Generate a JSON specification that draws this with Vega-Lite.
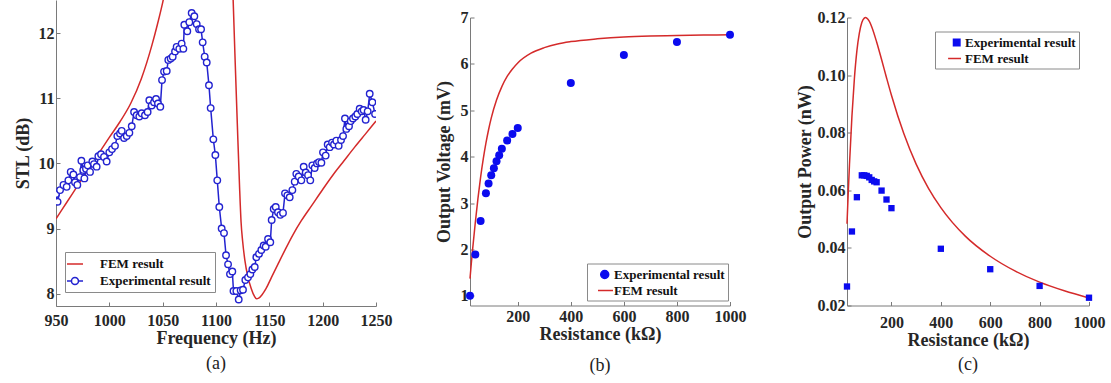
{
  "$schema": "https://vega.github.io/schema/vega-lite/v6.json",
  "padding": {"left": 14, "top": 0, "right": 5, "bottom": 5},
  "background": "white",
  "spacing": 43,
  "center": true,
  "resolve": {"scale": {"color": "independent", "x": "independent", "y": "independent"}, "legend": {"color": "independent"}},
  "config": {
    "view": {"stroke": null},
    "axis": {
      "labelFont": "Liberation Serif", "labelFontSize": 16, "labelFontWeight": "bold", "labelColor": "#262626",
      "titleFont": "Liberation Serif", "titleFontSize": 18, "titleFontWeight": "bold", "titleColor": "#262626",
      "domainColor": "#7a7a7a", "tickColor": "#7a7a7a", "tickSize": -4, "grid": false, "labelPadding": 6,
      "labelFlush": false, "labelOverlap": false
    },
    "legend": {
      "labelFont": "Liberation Serif", "labelFontSize": 13, "labelFontWeight": "bold", "labelColor": "#111111",
      "strokeColor": "#8a8a8a", "fillColor": "white", "padding": 3, "rowPadding": 1, "symbolSize": 196
    },
    "title": {"font": "Liberation Serif", "fontSize": 18, "fontWeight": "normal", "color": "#222222"}
  },
  "datasets": {
    "femA": [
      {"f": 950, "v": 9.15, "seg": 1, "series": "FEM result"},
      {"f": 960, "v": 9.4, "seg": 1, "series": "FEM result"},
      {"f": 970, "v": 9.65, "seg": 1, "series": "FEM result"},
      {"f": 980, "v": 9.9, "seg": 1, "series": "FEM result"},
      {"f": 990, "v": 10.15, "seg": 1, "series": "FEM result"},
      {"f": 1000, "v": 10.4, "seg": 1, "series": "FEM result"},
      {"f": 1010, "v": 10.64, "seg": 1, "series": "FEM result"},
      {"f": 1020, "v": 10.92, "seg": 1, "series": "FEM result"},
      {"f": 1030, "v": 11.3, "seg": 1, "series": "FEM result"},
      {"f": 1040, "v": 11.82, "seg": 1, "series": "FEM result"},
      {"f": 1045, "v": 12.13, "seg": 1, "series": "FEM result"},
      {"f": 1050, "v": 12.47, "seg": 1, "series": "FEM result"},
      {"f": 1053, "v": 12.7, "seg": 1, "series": "FEM result"},
      {"f": 1115, "v": 13.1, "seg": 2, "series": "FEM result"},
      {"f": 1116, "v": 12.55, "seg": 2, "series": "FEM result"},
      {"f": 1118, "v": 11.55, "seg": 2, "series": "FEM result"},
      {"f": 1120, "v": 10.6, "seg": 2, "series": "FEM result"},
      {"f": 1122, "v": 9.68, "seg": 2, "series": "FEM result"},
      {"f": 1123.5, "v": 9.1, "seg": 2, "series": "FEM result"},
      {"f": 1125, "v": 8.8, "seg": 2, "series": "FEM result"},
      {"f": 1127, "v": 8.52, "seg": 2, "series": "FEM result"},
      {"f": 1130, "v": 8.25, "seg": 2, "series": "FEM result"},
      {"f": 1133, "v": 8.08, "seg": 2, "series": "FEM result"},
      {"f": 1136, "v": 7.96, "seg": 2, "series": "FEM result"},
      {"f": 1138, "v": 7.92, "seg": 2, "series": "FEM result"},
      {"f": 1140, "v": 7.93, "seg": 2, "series": "FEM result"},
      {"f": 1143, "v": 7.98, "seg": 2, "series": "FEM result"},
      {"f": 1147, "v": 8.08, "seg": 2, "series": "FEM result"},
      {"f": 1152, "v": 8.25, "seg": 2, "series": "FEM result"},
      {"f": 1158, "v": 8.45, "seg": 2, "series": "FEM result"},
      {"f": 1165, "v": 8.68, "seg": 2, "series": "FEM result"},
      {"f": 1172, "v": 8.9, "seg": 2, "series": "FEM result"},
      {"f": 1180, "v": 9.12, "seg": 2, "series": "FEM result"},
      {"f": 1190, "v": 9.36, "seg": 2, "series": "FEM result"},
      {"f": 1200, "v": 9.6, "seg": 2, "series": "FEM result"},
      {"f": 1210, "v": 9.83, "seg": 2, "series": "FEM result"},
      {"f": 1220, "v": 10.04, "seg": 2, "series": "FEM result"},
      {"f": 1230, "v": 10.25, "seg": 2, "series": "FEM result"},
      {"f": 1240, "v": 10.45, "seg": 2, "series": "FEM result"},
      {"f": 1250, "v": 10.65, "seg": 2, "series": "FEM result"}
    ],
    "expA": [
      {"f": 950, "v": 9.53}, {"f": 951.5, "v": 9.41}, {"f": 953.8, "v": 9.59}, {"f": 957, "v": 9.67},
      {"f": 960, "v": 9.64}, {"f": 961.6, "v": 9.74}, {"f": 963.8, "v": 9.87}, {"f": 966.3, "v": 9.83},
      {"f": 967.8, "v": 9.71}, {"f": 970, "v": 9.67}, {"f": 972.5, "v": 9.79}, {"f": 973.8, "v": 10.04},
      {"f": 975.6, "v": 9.9}, {"f": 976.6, "v": 9.77}, {"f": 978.1, "v": 9.92}, {"f": 979.7, "v": 9.97},
      {"f": 981.9, "v": 9.87}, {"f": 984.1, "v": 10.03}, {"f": 985.6, "v": 9.99}, {"f": 988.1, "v": 9.95},
      {"f": 989.7, "v": 10.11}, {"f": 992.2, "v": 10.14}, {"f": 995, "v": 10.1}, {"f": 997.5, "v": 10.03},
      {"f": 1000, "v": 10.17}, {"f": 1002.5, "v": 10.22}, {"f": 1005.3, "v": 10.27}, {"f": 1007.5, "v": 10.42},
      {"f": 1010, "v": 10.46}, {"f": 1011.6, "v": 10.5}, {"f": 1013.8, "v": 10.39}, {"f": 1016.3, "v": 10.42},
      {"f": 1018.8, "v": 10.47}, {"f": 1021, "v": 10.57}, {"f": 1023.2, "v": 10.79}, {"f": 1025.6, "v": 10.74},
      {"f": 1028.1, "v": 10.72}, {"f": 1030.3, "v": 10.77}, {"f": 1033.4, "v": 10.74}, {"f": 1035.9, "v": 10.79},
      {"f": 1037.5, "v": 10.97}, {"f": 1039.7, "v": 10.89}, {"f": 1041.9, "v": 10.94}, {"f": 1043.8, "v": 10.99},
      {"f": 1045.6, "v": 10.92}, {"f": 1047.8, "v": 10.87}, {"f": 1049.4, "v": 11.28}, {"f": 1051.3, "v": 11.41},
      {"f": 1053.8, "v": 11.42}, {"f": 1055.3, "v": 11.59}, {"f": 1057.5, "v": 11.61}, {"f": 1059.4, "v": 11.64},
      {"f": 1061.6, "v": 11.72}, {"f": 1063.1, "v": 11.79}, {"f": 1065.6, "v": 11.76}, {"f": 1067.8, "v": 11.84},
      {"f": 1069.4, "v": 11.76}, {"f": 1070.3, "v": 12.13}, {"f": 1073.1, "v": 12.03}, {"f": 1075, "v": 12.17},
      {"f": 1077.2, "v": 12.31}, {"f": 1079.7, "v": 12.26}, {"f": 1081.9, "v": 12.14}, {"f": 1084.1, "v": 12.06},
      {"f": 1086, "v": 12.06}, {"f": 1087.5, "v": 11.86}, {"f": 1089.4, "v": 11.64}, {"f": 1091.3, "v": 11.55},
      {"f": 1093.4, "v": 11.2}, {"f": 1095, "v": 10.85}, {"f": 1097.5, "v": 10.37}, {"f": 1099.4, "v": 10.13},
      {"f": 1101.2, "v": 9.74}, {"f": 1103.1, "v": 9.33}, {"f": 1105.3, "v": 9.0}, {"f": 1107.5, "v": 8.93},
      {"f": 1109.4, "v": 8.59}, {"f": 1111.3, "v": 8.45}, {"f": 1113.1, "v": 8.3}, {"f": 1115.3, "v": 8.34},
      {"f": 1116.4, "v": 8.04}, {"f": 1119.1, "v": 8.04}, {"f": 1121.3, "v": 7.91}, {"f": 1123.1, "v": 8.05},
      {"f": 1125.3, "v": 8.06}, {"f": 1127.5, "v": 8.21}, {"f": 1130, "v": 8.25}, {"f": 1132.2, "v": 8.3},
      {"f": 1134.1, "v": 8.37}, {"f": 1136.3, "v": 8.41}, {"f": 1137.8, "v": 8.56}, {"f": 1140.3, "v": 8.61},
      {"f": 1142.5, "v": 8.67}, {"f": 1144.7, "v": 8.74}, {"f": 1146.6, "v": 8.72}, {"f": 1148.8, "v": 8.84},
      {"f": 1150.9, "v": 8.79}, {"f": 1152.2, "v": 9.13}, {"f": 1154.1, "v": 9.3}, {"f": 1156, "v": 9.33},
      {"f": 1158.1, "v": 9.25}, {"f": 1160.3, "v": 9.21}, {"f": 1162.8, "v": 9.24}, {"f": 1164.7, "v": 9.54},
      {"f": 1166.9, "v": 9.51}, {"f": 1169.1, "v": 9.48}, {"f": 1171.6, "v": 9.59}, {"f": 1173.8, "v": 9.72},
      {"f": 1175.3, "v": 9.84}, {"f": 1177.5, "v": 9.8}, {"f": 1180, "v": 9.74}, {"f": 1182.2, "v": 9.95},
      {"f": 1184.1, "v": 9.86}, {"f": 1186.3, "v": 9.82}, {"f": 1188.4, "v": 9.74}, {"f": 1190.3, "v": 9.97},
      {"f": 1192.5, "v": 9.93}, {"f": 1194.7, "v": 10.0}, {"f": 1196.6, "v": 10.02}, {"f": 1198.8, "v": 10.01},
      {"f": 1200.3, "v": 10.17}, {"f": 1202.8, "v": 10.12}, {"f": 1204.7, "v": 10.29}, {"f": 1206.6, "v": 10.25},
      {"f": 1208.8, "v": 10.32}, {"f": 1210.6, "v": 10.29}, {"f": 1212.8, "v": 10.35}, {"f": 1215, "v": 10.27},
      {"f": 1217.2, "v": 10.36}, {"f": 1219.1, "v": 10.42}, {"f": 1220.9, "v": 10.69}, {"f": 1222.2, "v": 10.53},
      {"f": 1224.7, "v": 10.57}, {"f": 1226.3, "v": 10.65}, {"f": 1228.4, "v": 10.69}, {"f": 1230.6, "v": 10.72},
      {"f": 1232.5, "v": 10.76}, {"f": 1234.7, "v": 10.84}, {"f": 1236.6, "v": 10.8}, {"f": 1238.4, "v": 10.82},
      {"f": 1240.3, "v": 10.67}, {"f": 1242.2, "v": 10.8}, {"f": 1244.1, "v": 11.07}, {"f": 1246.6, "v": 10.94},
      {"f": 1249.1, "v": 10.76}
    ],
    "femB": [
      {"R": 20, "V": 1.37}, {"R": 25, "V": 1.7}, {"R": 30, "V": 2.01}, {"R": 40, "V": 2.58},
      {"R": 50, "V": 3.1}, {"R": 60, "V": 3.56}, {"R": 70, "V": 3.95}, {"R": 80, "V": 4.29},
      {"R": 90, "V": 4.58}, {"R": 100, "V": 4.83}, {"R": 120, "V": 5.22}, {"R": 140, "V": 5.51},
      {"R": 160, "V": 5.73}, {"R": 180, "V": 5.89}, {"R": 200, "V": 6.02}, {"R": 250, "V": 6.23},
      {"R": 300, "V": 6.35}, {"R": 350, "V": 6.43}, {"R": 400, "V": 6.48}, {"R": 500, "V": 6.54},
      {"R": 600, "V": 6.58}, {"R": 700, "V": 6.6}, {"R": 800, "V": 6.61}, {"R": 900, "V": 6.62},
      {"R": 1000, "V": 6.63}
    ],
    "expB": [
      {"R": 20, "V": 1.0}, {"R": 40, "V": 1.89}, {"R": 60, "V": 2.61}, {"R": 80, "V": 3.21},
      {"R": 90, "V": 3.42}, {"R": 100, "V": 3.6}, {"R": 110, "V": 3.75}, {"R": 120, "V": 3.9},
      {"R": 130, "V": 4.03}, {"R": 140, "V": 4.17}, {"R": 160, "V": 4.35}, {"R": 180, "V": 4.49},
      {"R": 200, "V": 4.62}, {"R": 400, "V": 5.59}, {"R": 600, "V": 6.19}, {"R": 800, "V": 6.47},
      {"R": 1000, "V": 6.63}
    ],
    "femC": [
      {"R": 20, "P": 0.0484}, {"R": 25, "P": 0.0591}, {"R": 30, "P": 0.0689}, {"R": 40, "P": 0.0858},
      {"R": 50, "P": 0.0989}, {"R": 60, "P": 0.1084}, {"R": 70, "P": 0.1146}, {"R": 80, "P": 0.1183},
      {"R": 90, "P": 0.1198}, {"R": 95, "P": 0.12}, {"R": 100, "P": 0.1198}, {"R": 110, "P": 0.1187},
      {"R": 120, "P": 0.1168}, {"R": 140, "P": 0.1115}, {"R": 160, "P": 0.1054}, {"R": 180, "P": 0.0991},
      {"R": 200, "P": 0.093}, {"R": 250, "P": 0.0797}, {"R": 300, "P": 0.0691}, {"R": 350, "P": 0.0607},
      {"R": 400, "P": 0.054}, {"R": 500, "P": 0.044}, {"R": 600, "P": 0.0371}, {"R": 700, "P": 0.032},
      {"R": 800, "P": 0.0281}, {"R": 900, "P": 0.0251}, {"R": 1000, "P": 0.0226}
    ],
    "expC": [
      {"R": 20, "P": 0.0266}, {"R": 40, "P": 0.0457}, {"R": 60, "P": 0.0576}, {"R": 80, "P": 0.0652},
      {"R": 90, "P": 0.0652}, {"R": 100, "P": 0.065}, {"R": 110, "P": 0.0645}, {"R": 120, "P": 0.0636},
      {"R": 130, "P": 0.0631}, {"R": 140, "P": 0.0628}, {"R": 160, "P": 0.0599}, {"R": 180, "P": 0.0568},
      {"R": 200, "P": 0.0538}, {"R": 400, "P": 0.0397}, {"R": 600, "P": 0.0326}, {"R": 800, "P": 0.0268},
      {"R": 1000, "P": 0.0227}
    ]
  },
  "hconcat": [
    {
      "width": 320,
      "height": 306,
      "title": {"text": "(a)", "orient": "bottom", "offset": 8, "subtitle": " ", "subtitleFontSize": 12, "subtitlePadding": 8},
      "encoding": {
        "x": {"field": "f", "type": "quantitative", "scale": {"domain": [950, 1250], "nice": false, "zero": false},
              "axis": {"title": "Frequency (Hz)", "values": [950, 1000, 1050, 1100, 1150, 1200, 1250], "format": "d", "labelPadding": 10, "titlePadding": 1}},
        "y": {"field": "v", "type": "quantitative", "scale": {"domain": [7.81, 12.51], "nice": false, "zero": false},
              "axis": {"title": "STL (dB)", "values": [8, 9, 10, 11, 12], "format": "d", "titlePadding": 6}},
        "color": {"field": "series", "type": "nominal",
                  "scale": {"domain": ["FEM result", "Experimental result"], "range": ["#d42a2a", "#2323d0"]},
                  "legend": {"title": null, "orient": "none", "legendX": 9, "legendY": 252, "padding": 4, "rowPadding": 2, "labelOffset": 15,
                             "encode": {"symbols": {"update": {
                               "shape": {"signal": "datum.value === 'FEM result' ? 'M-1.43,0H0.86' : 'M-1.43,0H-0.79M0.21,0H0.86M0.21,0A0.5,0.5,0,1,1,-0.79,0A0.5,0.5,0,1,1,0.21,0'"},
                               "stroke": {"signal": "datum.value === 'FEM result' ? '#d42a2a' : '#2323d0'"},
                               "fill": {"value": "white"},
                               "strokeWidth": {"value": 1.5},
                               "opacity": {"value": 1}
                             }}}}}
      },
      "layer": [
        {
          "data": {"name": "femA"},
          "mark": {"type": "line", "clip": true, "strokeWidth": 1.5, "interpolate": "monotone"},
          "encoding": {"detail": {"field": "seg"}}
        },
        {
          "data": {"name": "expA"},
          "transform": [{"calculate": "'Experimental result'", "as": "series"}],
          "mark": {"type": "line", "clip": true, "strokeWidth": 1.5,
                   "point": {"filled": false, "fill": "white", "size": 42, "strokeWidth": 1.4, "color": "#2323d0"}},
          "encoding": {}
        }
      ]
    },
    {
      "spacing": 50,
      "center": false,
      "title": {"text": " ", "orient": "top", "fontSize": 4, "offset": 4},
      "resolve": {"scale": {"color": "independent", "x": "independent", "y": "independent"}, "legend": {"color": "independent"}},
      "hconcat": [
        {
          "width": 260,
          "height": 288,
          "title": {"text": "(b)", "orient": "bottom", "offset": 13},
          "encoding": {
            "x": {"field": "R", "type": "quantitative", "scale": {"domain": [20, 1000], "nice": false, "zero": false},
                  "axis": {"title": "Resistance (kΩ)", "values": [200, 400, 600, 800, 1000], "format": "d", "labelPadding": 7, "titlePadding": 1}},
            "y": {"field": "V", "type": "quantitative", "scale": {"domain": [0.79, 7], "nice": false, "zero": false},
                  "axis": {"title": "Output Voltage (mV)", "values": [1, 2, 3, 4, 5, 6, 7], "format": "d", "titlePadding": 7}},
            "color": {"field": "series", "type": "nominal",
                      "scale": {"domain": ["Experimental result", "FEM result"], "range": ["#0b0bef", "#d42a2a"]},
                      "legend": {"title": null, "orient": "none", "legendX": 117, "legendY": 246, "labelOffset": 8,
                                 "encode": {"symbols": {"update": {
                                   "shape": {"signal": "datum.value === 'FEM result' ? 'M0,0H2.14' : 'M1.53,0A0.57,0.57,0,1,1,0.39,0A0.57,0.57,0,1,1,1.53,0Z'"},
                                   "stroke": {"signal": "datum.value === 'FEM result' ? '#d42a2a' : 'transparent'"},
                                   "fill": {"signal": "datum.value === 'FEM result' ? 'transparent' : '#0b0bef'"},
                                   "strokeWidth": {"value": 1.5},
                                   "opacity": {"value": 1}
                                 }}}}}
          },
          "layer": [
            {
              "data": {"name": "femB"},
              "transform": [{"calculate": "'FEM result'", "as": "series"}],
              "mark": {"type": "line", "strokeWidth": 1.5, "interpolate": "monotone"},
              "encoding": {}
            },
            {
              "data": {"name": "expB"},
              "transform": [{"calculate": "'Experimental result'", "as": "series"}],
              "mark": {"type": "point", "filled": true, "size": 64, "opacity": 1},
              "encoding": {}
            }
          ]
        },
        {
          "width": 242,
          "height": 288,
          "title": {"text": "(c)", "orient": "bottom", "offset": 6},
          "encoding": {
            "x": {"field": "R", "type": "quantitative", "scale": {"domain": [20, 1000], "nice": false, "zero": false},
                  "axis": {"title": "Resistance (kΩ)", "values": [200, 400, 600, 800, 1000], "format": "d", "labelPadding": 13, "titlePadding": 1}},
            "y": {"field": "P", "type": "quantitative", "scale": {"domain": [0.02, 0.12], "nice": false, "zero": false},
                  "axis": {"title": "Output Power (nW)", "values": [0.02, 0.04, 0.06, 0.08, 0.1, 0.12], "format": ".2f", "titlePadding": 3}},
            "color": {"field": "series", "type": "nominal",
                      "scale": {"domain": ["Experimental result", "FEM result"], "range": ["#0b0bef", "#d42a2a"]},
                      "legend": {"title": null, "orient": "none", "legendX": 88, "legendY": 14, "labelOffset": 11,
                                 "encode": {"symbols": {"update": {
                                   "shape": {"signal": "datum.value === 'FEM result' ? 'M0.3,0H2.14' : 'M1.07,-0.46H1.99V0.46H1.07Z'"},
                                   "stroke": {"signal": "datum.value === 'FEM result' ? '#d42a2a' : 'transparent'"},
                                   "fill": {"signal": "datum.value === 'FEM result' ? 'transparent' : '#0b0bef'"},
                                   "strokeWidth": {"value": 1.5},
                                   "opacity": {"value": 1}
                                 }}}}}
          },
          "layer": [
            {
              "data": {"name": "femC"},
              "transform": [{"calculate": "'FEM result'", "as": "series"}],
              "mark": {"type": "line", "strokeWidth": 1.5, "interpolate": "monotone"},
              "encoding": {}
            },
            {
              "data": {"name": "expC"},
              "transform": [{"calculate": "'Experimental result'", "as": "series"}],
              "mark": {"type": "square", "filled": true, "size": 40, "opacity": 1},
              "encoding": {}
            }
          ]
        }
      ]
    }
  ]
}
